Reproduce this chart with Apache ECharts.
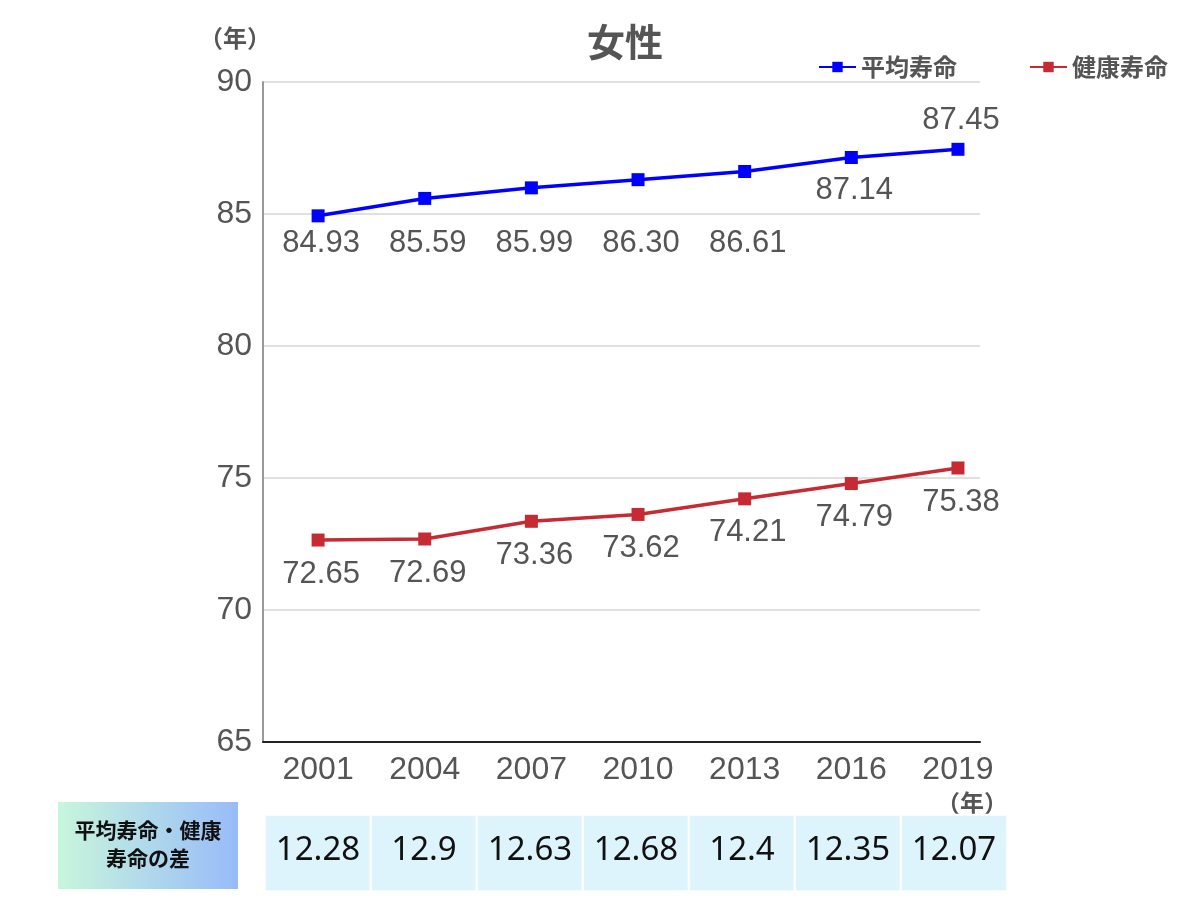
<!DOCTYPE html>
<html>
<head>
<meta charset="utf-8">
<script src="https://cdn.jsdelivr.net/npm/echarts@6/dist/echarts.min.js"></script>
<style>
html,body{margin:0;padding:0;background:#fff;}
#main{width:1200px;height:900px;}
</style>
</head>
<body>
<div id="main"></div>
<script>
// ---- data ----
const years = [2001, 2004, 2007, 2010, 2013, 2016, 2019];
const avgLife = [84.93, 85.59, 85.99, 86.30, 86.61, 87.14, 87.45];
const healthyLife = [72.65, 72.69, 73.36, 73.62, 74.21, 74.79, 75.38];
const lifeGap = [12.28, 12.9, 12.63, 12.68, 12.4, 12.35, 12.07];
const yTicks = [65, 70, 75, 80, 85, 90];
const seriesNames = ['平均寿命', '健康寿命'];
const titleText = '女性';
const gapHeader = ['平均寿命・健康', '寿命の差'];

const FONT = '"Liberation Sans", "Noto Sans CJK JP", sans-serif';
const CJK = '"Noto Sans CJK JP", sans-serif';
const GREY = '#555';

const chart = echarts.init(document.getElementById('main'));

function lineSeries(name, values, color) {
  return {
    name: name,
    type: 'line',
    xAxisIndex: 0, yAxisIndex: 0,
    data: values.map((v, i) => [years[i], v]),
    symbol: 'rect',
    symbolSize: 13,
    lineStyle: { color: color, width: 3.5 },
    itemStyle: { color: color },
    label: {
      show: true,
      position: 'inside',
      formatter: p => p.value[1].toFixed(2),
      fontFamily: FONT, fontSize: 31, color: GREY
    },
    emphasis: { disabled: true },
    z: 5
  };
}

const option = {
  animation: false,
  backgroundColor: '#fff',
  title: {
    text: titleText,
    left: 620, top: 18, textAlign: 'center',
    textStyle: { fontFamily: CJK, fontSize: 38, fontWeight: 'bold', color: GREY }
  },
  legend: {
    data: seriesNames,
    left: 813, top: 50,
    itemWidth: 37, itemHeight: 13, itemGap: 72,
    textStyle: { fontFamily: CJK, fontSize: 24, fontWeight: 'bold', color: GREY },
    selectedMode: false
  },
  grid: [
    { left: 263, right: 220, top: 82, bottom: 158, containLabel: false },
    { left: 265, width: 742, top: 815, height: 76, containLabel: false }
  ],
  xAxis: [
    {
      type: 'value', gridIndex: 0,
      min: 1999.45, max: 2019.62,
      axisLine: { show: true, lineStyle: { color: '#222', width: 2 } },
      axisTick: { show: false },
      splitLine: { show: false },
      axisLabel: {
        customValues: years,
        formatter: v => String(v),
        margin: 12,
        fontFamily: FONT, fontSize: 32, color: GREY
      }
    },
    {
      type: 'category', gridIndex: 1, data: years.map(String),
      show: false
    }
  ],
  yAxis: [
    {
      type: 'value', gridIndex: 0,
      min: yTicks[0], max: yTicks[yTicks.length - 1], interval: 5,
      axisLine: { show: true, onZero: false, lineStyle: { color: '#999', width: 2 } },
      axisTick: { show: false },
      splitLine: { show: true, lineStyle: { color: '#d6d6d6', width: 1.5 } },
      axisLabel: { margin: 11, fontFamily: FONT, fontSize: 32, color: GREY }
    },
    {
      type: 'category', gridIndex: 1, data: ['gap'], show: false
    }
  ],
  visualMap: {
    show: false, seriesIndex: 2, dimension: 2,
    min: 0, max: 100,
    inRange: { color: ['#def4fc', '#def4fc'] }
  },
  series: [
    lineSeries(seriesNames[0], avgLife, '#0000ff'),
    lineSeries(seriesNames[1], healthyLife, '#c62a32'),
    {
      type: 'heatmap',
      xAxisIndex: 1, yAxisIndex: 1,
      data: lifeGap.map((v, i) => [i, 0, v]),
      itemStyle: { borderColor: '#fff', borderWidth: 2 },
      label: {
        show: true,
        formatter: p => String(p.value[2]),
        fontFamily: '"Noto Sans", sans-serif', fontSize: 33, color: '#111',
        offset: [0, -2]
      },
      emphasis: { disabled: true }
    }
  ],
  graphic: [
    {
      type: 'text', left: 199, top: 26,
      style: { text: '（年）', fontFamily: CJK, fontSize: 24, fontWeight: 'bold', fill: GREY }
    },
    {
      type: 'text', left: 936, top: 791,
      style: { text: '（年）', fontFamily: CJK, fontSize: 24, fontWeight: 'bold', fill: GREY }
    },
    {
      type: 'group', left: 58, top: 802,
      children: [
        {
          type: 'rect',
          shape: { x: 0, y: 0, width: 180, height: 87 },
          style: {
            fill: new echarts.graphic.LinearGradient(0, 0, 1, 0, [
              { offset: 0, color: '#c8f6dc' },
              { offset: 1, color: '#98bbf9' }
            ])
          }
        },
        {
          type: 'text', x: 90, y: 28,
          style: { text: gapHeader[0], fontFamily: CJK, fontSize: 21, fontWeight: 'bold',
                   fill: '#111', align: 'center', verticalAlign: 'middle' }
        },
        {
          type: 'text', x: 90, y: 56,
          style: { text: gapHeader[1], fontFamily: CJK, fontSize: 21, fontWeight: 'bold',
                   fill: '#111', align: 'center', verticalAlign: 'middle' }
        }
      ]
    }
  ]
};

chart.setOption(option);

// Second pass: place value labels relative to the plotted points (via the chart's scales)
const pxAvg = years.map((y, i) => chart.convertToPixel({ gridIndex: 0 }, [y, avgLife[i]])[1]);
const rowY = pxAvg[0] + 28;
const avgLabels = avgLife.map((v, i) => {
  let dy;
  if (i <= 4) dy = rowY - pxAvg[i];
  else if (i === 5) dy = 33;
  else dy = -29;
  return { value: [years[i], v], label: { offset: [3, dy] } };
});
const healthyLabels = healthyLife.map((v, i) => ({ value: [years[i], v], label: { offset: [3, 34] } }));
chart.setOption({ series: [{ data: avgLabels }, { data: healthyLabels }] });
</script>
</body>
</html>
